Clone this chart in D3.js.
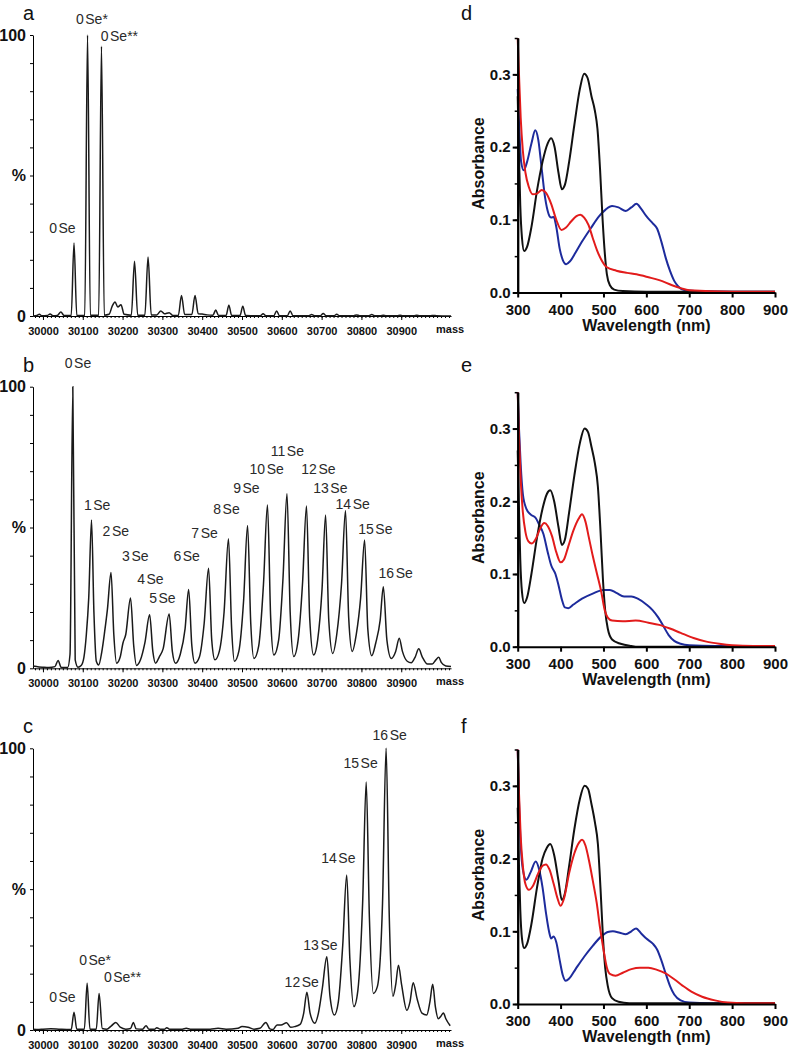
<!DOCTYPE html>
<html lang="en">
<head>
<meta charset="UTF-8">
<title>Se labelling: mass spectra and absorbance</title>
<script src="https://d3js.org/d3.v7.min.js"></script>
<style>
  body { margin: 0; background: #fff; }
  svg { display: block; font-family: "Liberation Sans", Arial, sans-serif; }
  .ms-line { fill: none; stroke: #1a1a1a; stroke-width: 1.5; }
  .uv-line { fill: none; stroke-width: 2; }
  .peak-label { font-size: 14px; fill: #2a2a2a; text-anchor: middle; }
  .panel-letter { font-size: 20px; fill: #111; }
</style>
</head>
<body>
<svg id="fig" width="791" height="1050"></svg>
<script>
// ---- mass spectra (mass, % intensity) ----
const massTicks = [30000, 30100, 30200, 30300, 30400, 30500, 30600, 30700, 30800, 30900];

const spectrumA = [[29975,0],[29985,0.2],[29991,0.6],[29997,0.1],[30011,0.2],[30018,0.7],[30025,0.1],[30036,0.2],[30045,1.4],[30053,0.2],
  [30071,0.2],[30078,26],[30085,0.2],[30105,0.3],[30112,100],[30119,0.3],[30140,0.3],[30147,96],[30154,0.3],[30166,0.6],
  [30174,3.5],[30181,5],[30188,3.2],[30196,4],[30204,0.6],[30222,0.3],[30230,19.5],[30238,0.3],[30256,0.3],[30264,21],
  [30272,0.4],[30286,0.4],[30296,1.8],[30305,0.8],[30317,1.2],[30326,0.2],[30340,0.2],[30348,7.3],[30356,0.5],[30374,0.5],
  [30382,7.3],[30390,0.8],[30400,0.7],[30412,0.4],[30427,0.3],[30434,2.1],[30441,0.2],[30460,0.2],[30467,3.8],[30474,0.2],
  [30495,0.2],[30502,3.5],[30509,0.2],[30546,0.1],[30553,0.8],[30560,0.1],[30580,0.1],[30587,1.8],[30594,0.1],[30614,0.1],
  [30621,1.8],[30628,0.1],[30668,0.1],[30675,0.5],[30682,0.1],[30697,0.1],[30704,0.9],[30711,0.1],[30731,0.1],[30738,0.6],
  [30745,0.1],[30781,0.1],[30788,0.4],[30795,0.1],[30819,0.1],[30826,0.5],[30833,0.1],[30848,0.1],[30855,0.3],[30862,0.1],
  [30890,0.1],[30897,0.3],[30904,0.1],[30932,0.1],[30939,0.3],[30946,0.1],[30974,0.1],[30981,0.2],[30988,0.1],[31025,0]];

const spectrumB = [[29975,0.8],[29990,0.5],[30000,0.4],[30015,0.3],[30030,0.6],[30038,2.8],[30046,0.3],[30062,0.3],[30068,5],[30075,100],
  [30081,3],[30088,0.4],[30096,1],[30103,4],[30109,12],[30115,25],[30122,52.7],[30128,20],[30134,2.5],[30140,1.2],
  [30148,6],[30155,13],[30162,21],[30171,34],[30178,12],[30185,1.8],[30194,4],[30201,9],[30208,12],[30220,25],
  [30228,8],[30235,1],[30245,3],[30256,9],[30268,19],[30276,6],[30283,1.8],[30292,4],[30302,7],[30317,19.3],
  [30325,6],[30333,1.8],[30345,5],[30357,14],[30366,28],[30374,8],[30382,1.8],[30393,4],[30405,16],[30416,35.5],
  [30424,10],[30432,3],[30443,6],[30455,20],[30466,46],[30474,14],[30481,2.5],[30492,6],[30504,24],[30514,50.7],
  [30522,16],[30530,3.5],[30542,8],[30554,30],[30564,58],[30572,18],[30580,4.7],[30592,10],[30603,32],[30613,62],
  [30621,20],[30630,4.2],[30641,10],[30652,30],[30662,57.6],[30670,18],[30680,4.7],[30690,10],[30701,28],[30710,54.4],
  [30718,17],[30728,5.3],[30738,12],[30750,30],[30760,56],[30768,18],[30777,6],[30787,12],[30798,25],[30808,45.6],
  [30816,14],[30826,4.5],[30836,9],[30847,17],[30855,29],[30864,10],[30875,3.5],[30886,6],[30895,10.7],[30903,6],
  [30915,2.5],[30925,2],[30935,4],[30944,6.9],[30953,4],[30966,1.5],[30978,1.5],[30987,3],[30994,3.9],[31001,2],
  [31012,0.8],[31025,0.6]];

const spectrumC = [[29975,0.3],[29990,0.2],[30000,0.3],[30020,0.4],[30040,0.3],[30060,0.2],[30071,0.2],[30078,6.3],[30085,0.3],[30104,0.3],
  [30111,16.6],[30118,0.3],[30134,0.3],[30141,13],[30149,0.5],[30160,0.3],[30172,1.5],[30183,2.7],[30194,1],[30208,0.3],
  [30220,0.5],[30227,2.7],[30234,0.4],[30250,0.3],[30259,1.5],[30266,0.3],[30280,0.3],[30286,0.8],[30294,0.3],[30305,0.3],
  [30311,0.8],[30318,0.3],[30350,0.3],[30360,0.6],[30370,0.3],[30420,0.3],[30440,0.6],[30460,0.3],[30490,0.6],[30500,1.2],
  [30515,1],[30530,0.3],[30545,0.6],[30560,2.7],[30570,0.4],[30578,0.2],[30588,1.8],[30598,1.8],[30612,2.6],[30622,1],
  [30632,1.2],[30646,2],[30655,6],[30663,13.4],[30671,6],[30683,2.4],[30692,6],[30702,15],[30713,26],[30721,12],
  [30732,5.3],[30742,10],[30753,30],[30763,55],[30771,25],[30781,8.3],[30791,14],[30803,45],[30812,88],[30820,40],
  [30830,13],[30840,15.4],[30853,45],[30862,100],[30870,40],[30879,12],[30886,16],[30893,23],[30901,16],[30914,7],
  [30922,10],[30930,16.8],[30940,11],[30952,6],[30964,5.3],[30972,10],[30979,16.2],[30986,8],[30993,4],[31000,5],
  [31006,6],[31012,4],[31023,1.5]];

// peak annotations: [count, suffix, mass, % level of text baseline]
const labelsA = [["0", "", 30049, 29.5], ["0", "*", 30123, 103.9], ["0", "**", 30192, 97.9]];
const labelsB = [["0", "", 30088, 106.6], ["1", "", 30136, 56.2], ["2", "", 30183, 46.9], ["3", "", 30232, 38],
  ["4", "", 30270, 29.9], ["5", "", 30300, 23.1], ["6", "", 30361, 38], ["7", "", 30406, 46.2], ["8", "", 30461, 54.7],
  ["9", "", 30511, 62.2], ["10", "", 30562, 69], ["11", "", 30614, 75.4], ["12", "", 30692, 69], ["13", "", 30722, 62.2],
  ["14", "", 30778, 56.5], ["15", "", 30835, 47.6], ["16", "", 30886, 32]];
const labelsC = [["0", "", 30049, 10], ["0", "*", 30131, 23], ["0", "**", 30200, 17.1], ["12", "", 30650, 15.4],
  ["13", "", 30697, 28.4], ["14", "", 30742, 59.3], ["15", "", 30798, 92.9], ["16", "", 30871, 102.9]];

// ---- absorbance spectra (nm, absorbance) ----
const wavelengthTicks = [300, 400, 500, 600, 700, 800, 900];
const absorbanceTicks = [0, 0.1, 0.2, 0.3];

const dBlack = [[300,0.27],[303,0.19],[306,0.12],[310,0.075],[315,0.057],[322,0.063],[332,0.09],[345,0.14],[358,0.18],[370,0.205],
  [378,0.212],[386,0.2],[395,0.165],[403,0.142],[410,0.148],[420,0.18],[432,0.23],[445,0.28],[455,0.301],[463,0.295],
  [472,0.27],[480,0.25],[486,0.225],[492,0.17],[498,0.1],[503,0.055],[508,0.025],[515,0.01],[525,0.004],[545,0.002],
  [600,0.001],[700,0.001],[800,0.001],[900,0.001]];
const dBlue = [[300,0.28],[304,0.22],[308,0.18],[314,0.168],[322,0.18],[332,0.205],[341,0.223],[348,0.21],[356,0.17],[364,0.13],
  [372,0.108],[378,0.103],[384,0.104],[390,0.09],[398,0.06],[405,0.045],[413,0.039],[422,0.043],[435,0.055],[450,0.07],
  [470,0.088],[490,0.105],[505,0.114],[520,0.119],[535,0.117],[552,0.112],[565,0.117],[577,0.122],[588,0.115],[600,0.105],
  [615,0.095],[625,0.088],[635,0.07],[645,0.048],[655,0.03],[665,0.016],[675,0.008],[690,0.003],[720,0.002],[800,0.001],[900,0.001]];
const dRed = [[300,0.35],[303,0.3],[307,0.24],[312,0.195],[318,0.165],[326,0.145],[335,0.135],[345,0.136],[356,0.141],[366,0.137],
  [378,0.122],[390,0.1],[402,0.086],[412,0.089],[425,0.098],[437,0.105],[446,0.107],[455,0.103],[465,0.093],[475,0.075],
  [485,0.058],[495,0.045],[507,0.035],[530,0.03],[555,0.027],[577,0.025],[605,0.021],[630,0.017],[660,0.01],[680,0.006],
  [700,0.003],[800,0.001],[900,0.001]];

const eBlack = [[300,0.27],[303,0.19],[306,0.12],[310,0.075],[315,0.06],[322,0.068],[332,0.1],[345,0.15],[358,0.19],[368,0.21],
  [376,0.215],[385,0.2],[395,0.165],[403,0.14],[410,0.147],[420,0.185],[432,0.235],[445,0.28],[456,0.3],[464,0.295],
  [472,0.275],[480,0.252],[487,0.22],[493,0.16],[499,0.09],[504,0.05],[510,0.025],[520,0.01],[540,0.004],[565,0.001],
  [580,0],[650,0],[900,0]];
const eBlue = [[300,0.35],[303,0.3],[307,0.25],[312,0.21],[320,0.19],[330,0.182],[342,0.177],[350,0.168],[360,0.155],[370,0.13],
  [378,0.112],[388,0.1],[395,0.085],[403,0.065],[410,0.054],[418,0.053],[430,0.058],[450,0.066],[475,0.073],[500,0.078],
  [515,0.078],[530,0.074],[548,0.069],[565,0.069],[580,0.066],[600,0.058],[615,0.05],[628,0.04],[640,0.028],[652,0.016],
  [665,0.008],[680,0.004],[700,0.002],[760,0.001],[900,0.001]];
const eRed = [[300,0.35],[303,0.29],[307,0.23],[312,0.185],[318,0.158],[325,0.145],[333,0.142],[342,0.148],[352,0.162],[362,0.17],
  [370,0.166],[380,0.152],[390,0.13],[400,0.116],[408,0.12],[418,0.138],[430,0.16],[442,0.176],[450,0.182],[458,0.172],
  [466,0.15],[475,0.125],[485,0.1],[495,0.075],[503,0.05],[510,0.04],[520,0.036],[545,0.035],[575,0.036],[605,0.033],
  [630,0.03],[655,0.025],[680,0.019],[710,0.012],[740,0.007],[770,0.004],[800,0.002],[850,0.001],[900,0.001]];

const fBlack = [[300,0.27],[303,0.19],[306,0.13],[310,0.09],[315,0.077],[322,0.083],[332,0.11],[345,0.16],[358,0.2],[368,0.215],
  [376,0.22],[385,0.205],[395,0.17],[403,0.143],[410,0.152],[420,0.19],[432,0.24],[445,0.282],[456,0.3],[464,0.296],
  [472,0.275],[480,0.25],[487,0.22],[493,0.16],[499,0.09],[504,0.05],[510,0.025],[520,0.008],[535,0.003],[560,0.001],[900,0.001]];
const fBlue = [[300,0.35],[303,0.28],[307,0.22],[312,0.185],[320,0.171],[330,0.181],[342,0.196],[350,0.185],[358,0.16],[366,0.125],
  [373,0.1],[378,0.09],[384,0.093],[390,0.085],[398,0.06],[405,0.04],[412,0.032],[420,0.035],[435,0.048],[455,0.065],
  [475,0.08],[495,0.093],[510,0.099],[522,0.1],[538,0.098],[552,0.096],[565,0.1],[576,0.104],[588,0.097],[600,0.09],
  [615,0.083],[625,0.075],[635,0.06],[645,0.042],[655,0.025],[665,0.013],[680,0.005],[700,0.002],[750,0.001],[900,0.001]];
const fRed = [[300,0.35],[303,0.29],[307,0.23],[312,0.19],[318,0.165],[326,0.157],[335,0.162],[348,0.18],[358,0.19],[366,0.192],
  [374,0.185],[384,0.165],[393,0.145],[400,0.135],[408,0.145],[420,0.18],[432,0.207],[443,0.222],[450,0.226],[458,0.218],
  [466,0.198],[475,0.17],[484,0.14],[492,0.105],[500,0.075],[508,0.05],[516,0.041],[528,0.039],[545,0.043],[565,0.048],
  [585,0.05],[605,0.05],[625,0.047],[645,0.042],[665,0.034],[685,0.025],[705,0.017],[730,0.01],[760,0.005],[790,0.002],
  [830,0.001],[900,0.001]];

const svg = d3.select('#fig');

// mass spectrum panel
function drawMass(letter, data, labels, y0, y100, letterY) {
  const x = d3.scaleLinear().domain([29975, 31025]).range([33, 451]);
  const y = d3.scaleLinear().domain([0, 100]).range([y0, y100]);
  const g = svg.append('g');

  // minor ticks every 10 Da
  g.append('g').attr('transform', `translate(0,${y0})`)
    .call(d3.axisBottom(x).tickValues(d3.range(29980, 31021, 10)).tickSize(2).tickFormat(''))
    .call(a => a.select('.domain').remove());
  // major ticks + labels
  g.append('g').attr('transform', `translate(0,${y0})`)
    .call(d3.axisBottom(x).tickValues(massTicks).tickSize(4).tickSizeOuter(0).tickFormat(d3.format('d')))
    .call(a => a.selectAll('text').attr('font-size', 11).attr('font-weight', 'bold')
      .attr('font-family', '"Liberation Sans", Arial, sans-serif').attr('fill', '#111').attr('dy', '1.05em'));
  g.append('text').attr('x', 436).attr('y', y0 + 17)
    .attr('font-size', 11).attr('font-weight', 'bold').attr('fill', '#111').text('mass');

  // y axis
  g.append('g').attr('transform', 'translate(33,0)')
    .call(d3.axisLeft(y).tickValues(d3.range(0, 101, 10)).tickSize(3).tickSizeOuter(0)
      .tickFormat(d => d === 100 ? '100' : d === 50 ? '%' : d === 0 ? '0' : ''))
    .call(a => a.selectAll('text').attr('font-size', 16).attr('font-weight', 'bold')
      .attr('font-family', '"Liberation Sans", Arial, sans-serif').attr('fill', '#111').attr('x', -7));

  g.append('path').datum(data).attr('class', 'ms-line')
    .attr('d', d3.line().x(d => x(d[0])).y(d => y(d[1])).curve(d3.curveMonotoneX));

  const lab = g.selectAll('.peak-label').data(labels).join('text').attr('class', 'peak-label')
    .attr('x', d => x(d[2])).attr('y', d => y(d[3]));
  lab.append('tspan').text(d => d[0]);
  lab.append('tspan').attr('dx', 1.5).text(d => 'Se' + d[1]);

  svg.append('text').attr('class', 'panel-letter').attr('x', 23).attr('y', letterY).text(letter);
}

// absorbance panel
function drawUV(letter, series, y0, letterY) {
  const x = d3.scaleLinear().domain([300, 900]).range([517.7, 775]);
  const y = d3.scaleLinear().domain([0, 0.35]).range([y0, y0 - 254.5]);
  const g = svg.append('g');
  const font = '"Liberation Sans", Arial, sans-serif';

  const line = d3.line().x(d => x(d[0])).y(d => y(d[1])).curve(d3.curveMonotoneX);
  series.forEach(s => {
    g.append('path').datum(s.data).attr('class', 'uv-line').attr('stroke', s.color).attr('d', line);
  });

  g.append('g').attr('transform', `translate(0,${y0})`)
    .call(d3.axisBottom(x).tickValues(wavelengthTicks).tickSize(5).tickSizeOuter(0))
    .call(a => a.select('.domain').attr('stroke-width', 2))
    .call(a => a.selectAll('line').attr('stroke-width', 2))
    .call(a => a.selectAll('text').attr('font-size', 15).attr('font-weight', 'bold')
      .attr('font-family', font).attr('fill', '#111').attr('dy', '0.95em'));
  g.append('g').attr('transform', 'translate(517.7,0)')
    .call(d3.axisLeft(y).tickValues(d3.range(0, 0.351, 0.05)).tickSize(3).tickSizeOuter(0).tickFormat(''))
    .call(a => a.selectAll('line').attr('stroke-width', 1.5))
    .call(a => a.select('.domain').attr('stroke-width', 2));
  g.append('g').attr('transform', 'translate(517.7,0)')
    .call(d3.axisLeft(y).tickValues(absorbanceTicks).tickSize(5).tickSizeOuter(0).tickFormat(d3.format('.1f')))
    .call(a => a.select('.domain').attr('stroke-width', 2))
    .call(a => a.selectAll('line').attr('stroke-width', 2))
    .call(a => a.selectAll('text').attr('font-size', 15).attr('font-weight', 'bold')
      .attr('font-family', font).attr('fill', '#111').attr('x', -7));

  g.append('text').attr('transform', `translate(484,${y0 - 129}) rotate(-90)`)
    .attr('text-anchor', 'middle').attr('font-size', 16).attr('font-weight', 'bold').attr('fill', '#111')
    .text('Absorbance');
  g.append('text').attr('x', 646.5).attr('y', y0 + 38).attr('text-anchor', 'middle')
    .attr('font-size', 16).attr('font-weight', 'bold').attr('fill', '#111').text('Wavelength (nm)');

  svg.append('text').attr('class', 'panel-letter').attr('x', 461).attr('y', letterY).text(letter);
}

drawMass('a', spectrumA, labelsA, 316, 35, 20);
drawMass('b', spectrumB, labelsB, 668.3, 386.7, 372);
drawMass('c', spectrumC, labelsC, 1030, 748.3, 733);

const blue = '#1d2b9c', red = '#e21b1b', black = '#111';
drawUV('d', [{data: dBlue, color: blue}, {data: dBlack, color: black}, {data: dRed, color: red}], 292.5, 20);
drawUV('e', [{data: eBlue, color: blue}, {data: eBlack, color: black}, {data: eRed, color: red}], 646.7, 372);
drawUV('f', [{data: fBlue, color: blue}, {data: fBlack, color: black}, {data: fRed, color: red}], 1004, 733);
</script>
</body>
</html>
